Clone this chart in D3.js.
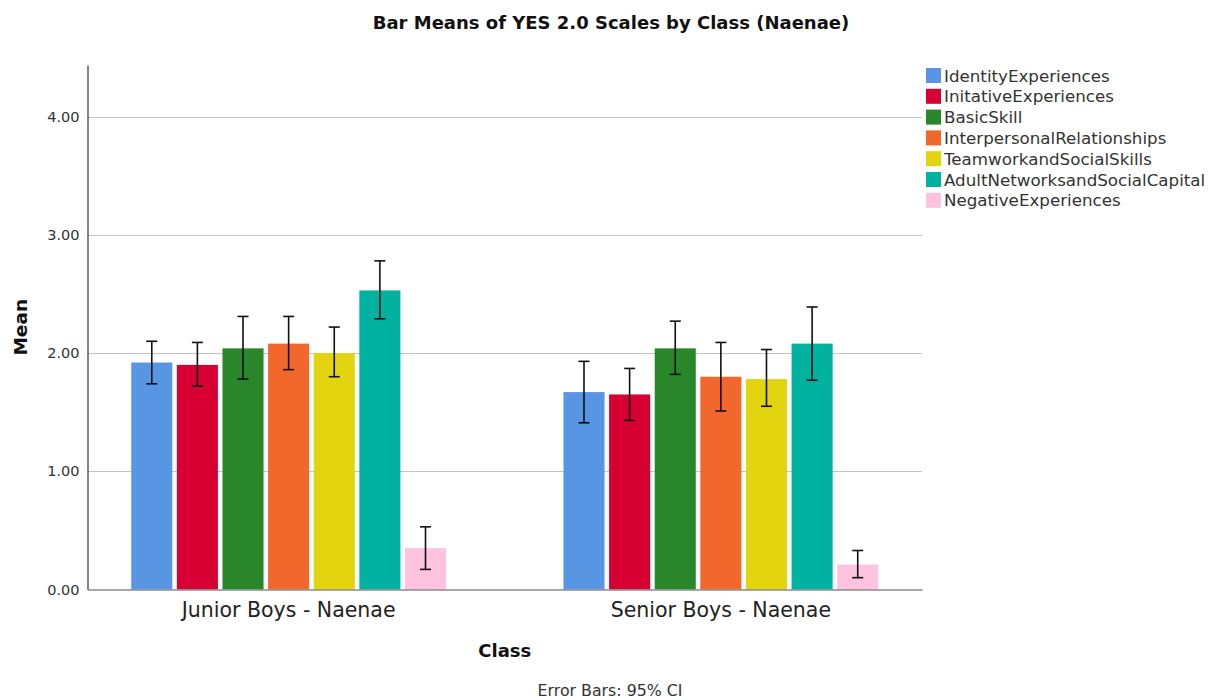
<!DOCTYPE html>
<html>
<head>
<meta charset="utf-8">
<script src="https://cdn.jsdelivr.net/npm/d3@7"></script>
<style>
  html, body { margin: 0; padding: 0; background: #fff; }
  svg { display: block; font-family: "DejaVu Sans", sans-serif; }
</style>
</head>
<body>
<svg id="chart" width="1219" height="700"></svg>
<script>
const classes = ["Junior Boys - Naenae", "Senior Boys - Naenae"];
const scales = ["IdentityExperiences", "InitativeExperiences", "BasicSkill", "InterpersonalRelationships",
  "TeamworkandSocialSkills", "AdultNetworksandSocialCapital", "NegativeExperiences"];
const colors = ["#5895e3", "#d70032", "#2a862a", "#f2682c", "#e2d510", "#00b29f", "#ffc3df"];
// means per class, in order of scales
const juniorMeans = [1.92, 1.90, 2.04, 2.08, 2.00, 2.53, 0.35];
const seniorMeans = [1.67, 1.65, 2.04, 1.80, 1.78, 2.08, 0.21];
// 95% CI bounds
const juniorLow  = [1.74, 1.72, 1.78, 1.86, 1.80, 2.29, 0.17];
const juniorHigh = [2.10, 2.09, 2.31, 2.31, 2.22, 2.78, 0.53];
const seniorLow  = [1.41, 1.43, 1.82, 1.51, 1.55, 1.77, 0.10];
const seniorHigh = [1.93, 1.87, 2.27, 2.09, 2.03, 2.39, 0.33];
const yTicks = [0, 1, 2, 3, 4];

(function () {
const table = [];
classes.forEach((c, ci) => {
  const m = ci === 0 ? juniorMeans : seniorMeans;
  const lo = ci === 0 ? juniorLow : seniorLow;
  const hi = ci === 0 ? juniorHigh : seniorHigh;
  scales.forEach((s, si) => table.push({cls: c, scale: s, mean: m[si], lo: lo[si], hi: hi[si], color: colors[si]}));
});

const svg = d3.select("#chart");
const pLeft = 87.5, pRight = 922, pTop = 65, pBottom = 589.5;

const x0 = d3.scaleBand().domain(classes).range([pLeft, pRight]).paddingInner(0.2717).paddingOuter(0.1012);
const x1 = d3.scaleBand().domain(scales).range([0, x0.bandwidth()]).paddingInner(0.1).paddingOuter(0);
const y = d3.scaleLinear().domain([0, 4.437]).range([pBottom, pTop]);

// gridlines
svg.append("g").selectAll("line").data(yTicks.filter(d => d > 0)).join("line")
  .attr("x1", pLeft).attr("x2", pRight)
  .attr("y1", d => Math.round(y(d)) + 0.5).attr("y2", d => Math.round(y(d)) + 0.5)
  .attr("stroke", "#c4c4c4").attr("stroke-width", 1);

// title
svg.append("text").attr("x", 611).attr("y", 29).attr("text-anchor", "middle")
  .attr("font-size", 18).attr("font-weight", "bold").attr("fill", "#111")
  .text("Bar Means of YES 2.0 Scales by Class (Naenae)");

// bars
svg.append("g").selectAll("rect").data(table).join("rect")
  .attr("x", d => x0(d.cls) + x1(d.scale))
  .attr("width", x1.bandwidth())
  .attr("y", d => y(d.mean))
  .attr("height", d => y(0) - y(d.mean))
  .attr("fill", d => d.color);

// error bars
const eb = svg.append("g").attr("stroke", "#111").attr("stroke-width", 1.6);
const cx = d => x0(d.cls) + x1(d.scale) + x1.bandwidth() / 2;
eb.selectAll("line.v").data(table).join("line").attr("class", "v")
  .attr("x1", cx).attr("x2", cx).attr("y1", d => y(d.lo)).attr("y2", d => y(d.hi));
eb.selectAll("line.t").data(table).join("line").attr("class", "t")
  .attr("x1", d => cx(d) - 5.5).attr("x2", d => cx(d) + 5.5).attr("y1", d => y(d.hi)).attr("y2", d => y(d.hi));
eb.selectAll("line.b").data(table).join("line").attr("class", "b")
  .attr("x1", d => cx(d) - 5.5).attr("x2", d => cx(d) + 5.5).attr("y1", d => y(d.lo)).attr("y2", d => y(d.lo));

// y axis
const yAxis = svg.append("g").attr("transform", `translate(${pLeft},0)`)
  .call(d3.axisLeft(y).tickValues(yTicks).tickFormat(d3.format(".2f")).tickSize(0).tickPadding(8));
yAxis.select(".domain").attr("stroke", "#333").attr("stroke-width", 1.2);
yAxis.selectAll("text").attr("font-size", 14.5).attr("fill", "#333").attr("font-family", "DejaVu Sans, sans-serif");

// x axis
const xAxis = svg.append("g").attr("transform", `translate(0,${pBottom})`)
  .call(d3.axisBottom(x0).tickSize(0));
xAxis.select(".domain").attr("stroke", "#888").attr("stroke-width", 1.5);
xAxis.selectAll("text").attr("font-size", 20.5).attr("fill", "#222").attr("font-family", "DejaVu Sans, sans-serif")
  .attr("dy", null).attr("y", 27.5);

// axis titles
svg.append("text").attr("x", (pLeft + pRight) / 2).attr("y", 657).attr("text-anchor", "middle")
  .attr("font-size", 18).attr("font-weight", "bold").attr("fill", "#111").text("Class");
svg.append("text").attr("transform", `translate(27,${(pTop + pBottom) / 2}) rotate(-90)`)
  .attr("text-anchor", "middle").attr("font-size", 18.5).attr("font-weight", "bold").attr("fill", "#111").text("Mean");
svg.append("text").attr("x", 610).attr("y", 696).attr("text-anchor", "middle")
  .attr("font-size", 15.8).attr("fill", "#333").text("Error Bars: 95% CI");

// legend
const lg = svg.append("g").attr("transform", "translate(926,68)");
const items = lg.selectAll("g").data(scales).join("g").attr("transform", (d, i) => `translate(0,${i * 20.8})`);
items.append("rect").attr("width", 15).attr("height", 15).attr("fill", (d, i) => colors[i]);
items.append("text").attr("x", 18).attr("y", 13.5).attr("font-size", 16.7).attr("fill", "#333").text(d => d);
})();
</script>
</body>
</html>
